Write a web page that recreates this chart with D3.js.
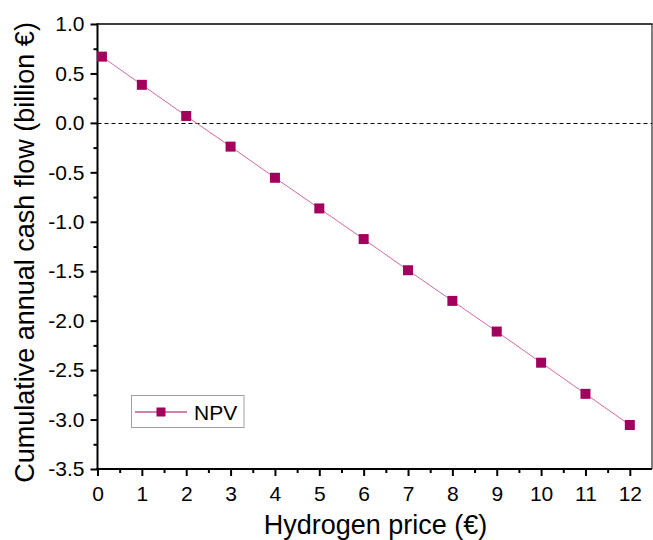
<!DOCTYPE html>
<html>
<head>
<meta charset="utf-8">
<script src="https://cdn.jsdelivr.net/npm/d3@7"></script>
<style>
  html, body { margin: 0; padding: 0; background: #fff; }
  svg { display: block; font-family: "Liberation Sans", Arial, sans-serif; }
</style>
</head>
<body>
<svg id="chart" width="653" height="540"></svg>
<script>
// Hydrogen price (€) and cumulative annual cash flow (billion €)
const prices = [0.1, 1, 2, 3, 4, 5, 6, 7, 8, 9, 10, 11, 12];
const npv = [0.67, 0.385, 0.07, -0.24, -0.555, -0.865, -1.175, -1.49, -1.80, -2.11, -2.425, -2.74, -3.055];
const xTicks = [0, 1, 2, 3, 4, 5, 6, 7, 8, 9, 10, 11, 12];
const yTicks = [1.0, 0.5, 0.0, -0.5, -1.0, -1.5, -2.0, -2.5, -3.0, -3.5];
const seriesName = "NPV";

const svg = d3.select("#chart");
const plotL = 97.5, plotR = 652, plotT = 24, plotB = 469;
const markerColor = "#a3005e";
const lineColor = "#cf6aa0";

const x = d3.scaleLinear().domain([0, 12.5]).range([plotL, plotR]);
const y = d3.scaleLinear().domain([-3.5, 1.0]).range([plotB, plotT]);

// zero reference line
const y0 = Math.round(y(0)) + 0.5;
svg.append("line")
  .attr("x1", plotL).attr("x2", plotR)
  .attr("y1", y0).attr("y2", y0)
  .attr("stroke", "#000").attr("stroke-width", 1)
  .attr("stroke-dasharray", "4,3");

// minor ticks
const xMinor = d3.range(0.5, 12.5, 1);
const yMinor = d3.range(-3.25, 1.0, 0.5);
const bottomMinor = d3.axisBottom(x).tickValues(xMinor).tickSize(4).tickFormat("");
const leftMinor = d3.axisLeft(y).tickValues(yMinor).tickSize(4).tickFormat("");
svg.append("g").attr("transform", `translate(0,${plotB})`).call(bottomMinor)
  .call(g => g.select(".domain").remove())
  .call(g => g.selectAll("line").attr("stroke-width", 2));
svg.append("g").attr("transform", `translate(${plotL},0)`).call(leftMinor)
  .call(g => g.select(".domain").remove())
  .call(g => g.selectAll("line").attr("stroke-width", 2));

// major axes (plain hyphen for negative labels)
const fmtY = v => d3.format(".1f")(v).replace("\u2212", "-");
const xAxis = d3.axisBottom(x).tickValues(xTicks).tickSize(7).tickPadding(10).tickFormat(d3.format("d"));
const yAxis = d3.axisLeft(y).tickValues(yTicks).tickSize(7).tickPadding(6).tickFormat(fmtY);

svg.append("g").attr("transform", `translate(0,${plotB})`).call(xAxis)
  .call(g => g.select(".domain").remove())
  .call(g => g.selectAll("line").attr("stroke-width", 2))
  .call(g => g.selectAll("text").attr("font-size", 21).attr("fill", "#000")
    .attr("font-family", "Liberation Sans, Arial, sans-serif"));

svg.append("g").attr("transform", `translate(${plotL},0)`).call(yAxis)
  .call(g => g.select(".domain").remove())
  .call(g => g.selectAll("line").attr("stroke-width", 2))
  .call(g => g.selectAll("text").attr("font-size", 21).attr("fill", "#000")
    .attr("font-family", "Liberation Sans, Arial, sans-serif"));

// frame
svg.append("line").attr("x1", plotL).attr("x2", plotL).attr("y1", plotT - 0.75).attr("y2", plotB + 1)
  .attr("stroke", "#000").attr("stroke-width", 2);
svg.append("line").attr("x1", plotL - 1).attr("x2", plotR).attr("y1", plotB).attr("y2", plotB)
  .attr("stroke", "#000").attr("stroke-width", 2);
svg.append("line").attr("x1", plotL).attr("x2", plotR + 0.5).attr("y1", plotT).attr("y2", plotT)
  .attr("stroke", "#000").attr("stroke-width", 1.5);
svg.append("line").attr("x1", plotR).attr("x2", plotR).attr("y1", plotT).attr("y2", plotB)
  .attr("stroke", "#000").attr("stroke-width", 1);

// series
const pts = prices.map((p, i) => ({ p, v: npv[i] }));
svg.append("path").datum(pts)
  .attr("fill", "none").attr("stroke", lineColor).attr("stroke-width", 1)
  .attr("d", d3.line().x(d => x(d.p)).y(d => y(d.v)));

const ms = 10;
svg.append("g").selectAll("rect").data(pts).join("rect")
  .attr("x", d => x(d.p) - ms / 2).attr("y", d => y(d.v) - ms / 2)
  .attr("width", ms).attr("height", ms).attr("fill", markerColor);

// legend
const lg = svg.append("g");
lg.append("rect").attr("x", 131.5).attr("y", 395.5).attr("width", 112.5).attr("height", 32)
  .attr("fill", "#fff").attr("stroke", "#a0a0a0").attr("stroke-width", 1);
lg.append("line").attr("x1", 135).attr("x2", 187).attr("y1", 412).attr("y2", 412)
  .attr("stroke", markerColor).attr("stroke-width", 1);
lg.append("rect").attr("x", 161 - 4.5).attr("y", 412 - 4.5).attr("width", 9).attr("height", 9)
  .attr("fill", markerColor);
lg.append("text").attr("x", 194).attr("y", 419.5).attr("font-size", 21).attr("fill", "#000")
  .text(seriesName);

// axis titles
svg.append("text").attr("x", (263 + 488) / 2).attr("y", 534)
  .attr("text-anchor", "middle").attr("font-size", 27).attr("fill", "#000")
  .text("Hydrogen price (€)");
svg.append("text")
  .attr("transform", `translate(34,${(18 + 487) / 2}) rotate(-90)`)
  .attr("text-anchor", "middle").attr("font-size", 27).attr("fill", "#000")
  .text("Cumulative annual cash flow (billion €)");
</script>
</body>
</html>
